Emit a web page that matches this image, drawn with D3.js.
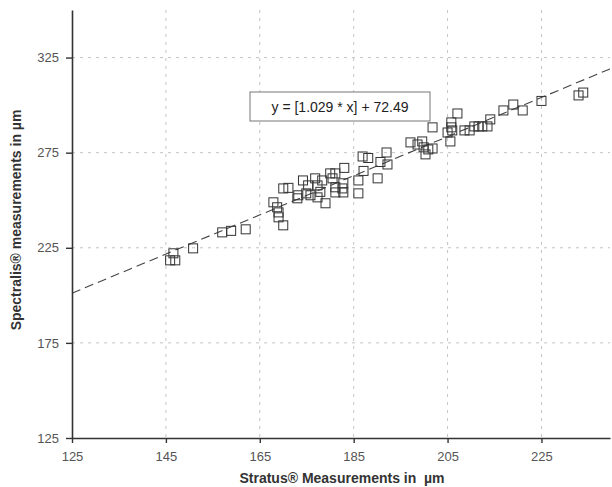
<!DOCTYPE html>
<html>
<head>
<meta charset="utf-8">
<script src="https://cdn.jsdelivr.net/npm/d3@7"></script>
<style>
  body { margin: 0; background: #fff; }
  svg { display: block; font-family: "Liberation Sans", Arial, sans-serif; }
</style>
</head>
<body>
<svg id="chart" width="612" height="487"></svg>
<script>
// Stratus (x) vs Spectralis (y) measurements, in µm
const stratus = [
  146.6, 145.9, 147.0, 150.8, 157.0, 158.9, 162.0,
  170.0, 169.0, 169.0, 168.7, 167.9, 170.0, 171.1, 173.0, 173.2, 174.2,
  175.3, 174.9, 175.8, 176.8, 177.3, 177.9, 179.0, 180.0, 181.1, 180.5,
  181.1, 177.3, 178.3, 182.6, 181.1, 182.8, 183.0, 182.8,
  186.0, 186.0, 187.1, 190.1, 186.9, 188.1, 192.0, 190.7, 192.2,
  197.1, 198.6, 199.6, 199.9, 200.9, 201.8, 200.3, 201.8, 205.8, 205.8,
  205.0, 206.0, 205.6, 207.1, 208.6, 209.7, 210.7, 211.6, 212.4, 213.5,
  214.1, 216.9, 219.0, 221.0, 225.0, 232.9, 233.9
];
const spectralis = [
  222.1, 218.4, 218.4, 224.7, 233.1, 233.9, 234.7,
  236.8, 241.0, 243.6, 246.3, 248.9, 256.2, 256.5, 251.0, 252.6, 260.4,
  257.8, 253.6, 252.6, 261.5, 257.8, 254.4, 248.4, 264.1, 264.1, 261.5,
  256.8, 251.5, 260.4, 256.2, 254.1, 254.1, 267.0, 258.9,
  260.4, 253.6, 265.4, 261.5, 273.0, 272.2, 275.1, 270.1, 268.8,
  280.4, 279.3, 280.9, 277.8, 276.7, 277.2, 274.1, 288.3, 290.9, 288.3,
  285.6, 286.7, 280.9, 295.6, 286.7, 286.7, 288.8, 288.8, 288.8, 288.8,
  292.5, 297.2, 300.3, 297.2, 302.2, 305.1, 306.6
];
const xTicks = [125, 145, 165, 185, 205, 225];
const yTicks = [125, 175, 225, 275, 325];
const slope = 1.029;
const intercept = 72.49;
const equationLabel = "y = [1.029 * x] + 72.49";

const svg = d3.select("#chart");
const plotLeft = 72, plotRight = 610, plotTop = 10, plotBottom = 438;

const x = d3.scaleLinear().domain([125, 239.6]).range([plotLeft, plotRight]);
const y = d3.scaleLinear().domain([125, 350]).range([plotBottom, plotTop]);

// grid
svg.append("g").selectAll("line")
  .data(xTicks.slice(1))
  .join("line")
  .attr("x1", d => x(d)).attr("x2", d => x(d))
  .attr("y1", plotTop).attr("y2", plotBottom)
  .attr("stroke", "#c4c4c4").attr("stroke-dasharray", "3,5");
svg.append("g").selectAll("line")
  .data(yTicks.slice(1))
  .join("line")
  .attr("x1", plotLeft).attr("x2", plotRight)
  .attr("y1", d => y(d)).attr("y2", d => y(d))
  .attr("stroke", "#c4c4c4").attr("stroke-dasharray", "3,5");

// regression line
const xd = x.domain();
svg.append("line")
  .attr("x1", x(xd[0])).attr("y1", y(slope * xd[0] + intercept))
  .attr("x2", x(xd[1])).attr("y2", y(slope * xd[1] + intercept))
  .attr("stroke", "#444").attr("stroke-width", 1.1)
  .attr("stroke-dasharray", "9,5");

// points
const pts = stratus.map((v, i) => ({ x: v, y: spectralis[i] }));
const s = 9;
svg.append("g").selectAll("rect")
  .data(pts)
  .join("rect")
  .attr("x", d => x(d.x) - s / 2)
  .attr("y", d => y(d.y) - s / 2)
  .attr("width", s).attr("height", s)
  .attr("fill", "none")
  .attr("stroke", "#333").attr("stroke-width", 1);

// axes
const xAxis = svg.append("g")
  .attr("transform", `translate(0,${plotBottom})`)
  .call(d3.axisBottom(x).tickValues(xTicks).tickSize(5).tickSizeOuter(0).tickPadding(9));
const yAxis = svg.append("g")
  .attr("transform", `translate(${plotLeft},0)`)
  .call(d3.axisLeft(y).tickValues(yTicks).tickSize(6).tickSizeOuter(0).tickPadding(7));
[xAxis, yAxis].forEach(g => {
  g.select(".domain").attr("stroke", "#333").attr("stroke-width", 1.6);
  g.selectAll(".tick line").attr("stroke", "#333").attr("stroke-width", 1.4);
  g.selectAll(".tick text").attr("fill", "#555")
    .style("font-size", "13px").style("font-family", "Liberation Sans, Arial, sans-serif");
});

// axis titles
svg.append("text")
  .attr("x", 342).attr("y", 483)
  .attr("text-anchor", "middle")
  .style("white-space", "pre")
  .attr("font-size", 14).attr("font-weight", "bold").attr("fill", "#333")
  .text("Stratus® Measurements in  µm");
svg.append("text")
  .attr("transform", "translate(21,220) rotate(-90)")
  .attr("text-anchor", "middle")
  .attr("font-size", 14).attr("font-weight", "bold").attr("fill", "#333")
  .text("Spectralis® measurements in µm");

// equation box
svg.append("rect")
  .attr("x", 250).attr("y", 92).attr("width", 180).attr("height", 29)
  .attr("fill", "#fff").attr("stroke", "#777").attr("stroke-width", 1);
svg.append("text")
  .attr("x", 340).attr("y", 112)
  .attr("text-anchor", "middle")
  .attr("font-size", 14).attr("fill", "#222")
  .text(equationLabel);
</script>
</body>
</html>
